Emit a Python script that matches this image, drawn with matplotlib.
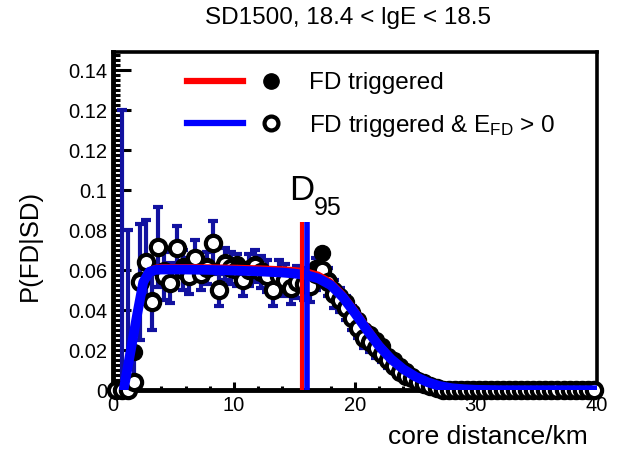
import matplotlib
matplotlib.use("Agg")
import matplotlib.pyplot as plt
from matplotlib.lines import Line2D
from matplotlib.legend_handler import HandlerTuple
from matplotlib.ticker import MultipleLocator, FixedLocator

plt.rcParams['font.family'] = ['Liberation Sans', 'DejaVu Sans']
plt.rcParams['mathtext.fontset'] = 'custom'
plt.rcParams['mathtext.rm'] = 'Liberation Sans'
plt.rcParams['mathtext.it'] = 'Liberation Sans:italic'

# bin centres in km
core_distance = [0.25, 0.75, 1.25, 1.75, 2.25, 2.75, 3.25, 3.75, 4.25, 4.75,
                 5.25, 5.75, 6.25, 6.75, 7.25, 7.75, 8.25, 8.75, 9.25, 9.75,
                 10.25, 10.75, 11.25, 11.75, 12.25, 12.75, 13.25, 13.75, 14.25, 14.75,
                 15.25, 15.75, 16.25, 16.75, 17.25, 17.75, 18.25, 18.75, 19.25, 19.75,
                 20.25, 20.75, 21.25, 21.75, 22.25, 22.75, 23.25, 23.75, 24.25, 24.75,
                 25.25, 25.75, 26.25, 26.75, 27.25, 27.75, 28.25, 28.75, 29.25, 29.75,
                 30.25, 30.75, 31.25, 31.75, 32.25, 32.75, 33.25, 33.75, 34.25, 34.75,
                 35.25, 35.75, 36.25, 36.75, 37.25, 37.75, 38.25, 38.75, 39.25, 39.75]

# FD triggered (filled)
p_fd = [0, 0, 0.002, 0.019, 0.055, 0.064, 0.045, 0.071, 0.060, 0.054,
        0.071, 0.062, 0.058, 0.063, 0.060, 0.062, 0.074, 0.051, 0.064, 0.062,
        0.063, 0.056, 0.061, 0.063, 0.060, 0.058, 0.051, 0.058, 0.056, 0.052,
        0.055, 0.056, 0.053, 0.061, 0.0685, 0.055, 0.050, 0.047, 0.044, 0.039,
        0.035, 0.030, 0.028, 0.025, 0.022, 0.017, 0.015, 0.012, 0.0095, 0.007,
        0.005, 0.004, 0.002, 0.001, 0, 0, 0, 0, 0, 0,
        0, 0, 0, 0, 0, 0, 0, 0, 0, 0,
        0, 0, 0, 0, 0, 0, 0, 0, 0, 0]

# FD triggered & E_FD > 0 (open)
p_fd_e = [0, 0, 0, 0.004, 0.054, 0.064, 0.044, 0.0715, 0.057, 0.0535,
          0.071, 0.060, 0.057, 0.066, 0.058, 0.061, 0.0735, 0.050, 0.063, 0.061,
          0.060, 0.055, 0.060, 0.062, 0.059, 0.057, 0.050, 0.057, 0.055, 0.051,
          0.054, 0.053, 0.052, 0.058, 0.060, 0.054, 0.048, 0.045, 0.041, 0.036,
          0.031, 0.026, 0.024, 0.021, 0.018, 0.015, 0.012, 0.009, 0.007, 0.006,
          0.004, 0.003, 0.002, 0.001, 0, 0, 0, 0, 0, 0,
          0, 0, 0, 0, 0, 0, 0, 0, 0, 0,
          0, 0, 0, 0, 0, 0, 0, 0, 0, 0]

p_err = [0, 0.14, 0.08, 0.015, 0.029, 0.021, 0.014, 0.02, 0.012, 0.01,
         0.011, 0.01, 0.009, 0.009, 0.008, 0.008, 0.011, 0.008, 0.008, 0.008,
         0.008, 0.008, 0.008, 0.008, 0.008, 0.008, 0.008, 0.008, 0.008, 0.008,
         0.008, 0.008, 0.008, 0.008, 0.008, 0.007, 0.007, 0.006, 0.006, 0.006,
         0.005, 0.005, 0.005, 0.005, 0.004, 0.004, 0.003, 0.003, 0.003, 0.002,
         0.002, 0.001, 0.001, 0.001, 0, 0, 0, 0, 0, 0,
         0, 0, 0, 0, 0, 0, 0, 0, 0, 0,
         0, 0, 0, 0, 0, 0, 0, 0, 0, 0]

# fitted curves
fit_x = [0.9, 1.5, 2.0, 2.5, 3.0, 3.5, 4.0, 6.0, 8.0, 10.0, 12.0, 14.0, 15.0, 16.0,
         17.0, 18.0, 19.0, 20.0, 21.0, 22.0, 23.0, 24.0, 25.0, 26.0, 27.0, 28.0,
         29.0, 30.0, 32.0, 35.0, 40.0]
fit_fd = [0.001, 0.021, 0.039, 0.055, 0.0605, 0.0617, 0.062, 0.062, 0.0619, 0.0617,
          0.0614, 0.0609, 0.0605, 0.0598, 0.0582, 0.0548, 0.0488, 0.041, 0.0325, 0.024,
          0.017, 0.0115, 0.0075, 0.0045, 0.0024, 0.0012, 0.0006, 0.0002, 0, 0, 0]
fit_fd_e = [0.001, 0.021, 0.038, 0.054, 0.0592, 0.0601, 0.0603, 0.0603, 0.0601, 0.0598,
            0.0594, 0.0588, 0.0583, 0.0575, 0.0558, 0.0525, 0.0465, 0.0385, 0.030, 0.022,
            0.0155, 0.0105, 0.0068, 0.004, 0.0021, 0.001, 0.0005, 0.0002, 0, 0, 0]

d95_fd = 15.6
d95_fd_e = 16.05
d95_height = 0.084

ytick_pos = [0, 0.02, 0.04, 0.06, 0.08, 0.10, 0.12, 0.14, 0.16]
ytick_lbl = ["0", "0.02", "0.04", "0.06", "0.08", "0.1", "0.12", "0.12", "0.14"]

fig = plt.figure(figsize=(6.21, 4.49), dpi=100)
ax = fig.add_axes([0.182, 0.131, 0.779, 0.753])

ax.errorbar(core_distance, p_fd_e, yerr=p_err, fmt='none', ecolor='#1212a0',
            elinewidth=3, capsize=3.5, capthick=3, zorder=2)
ax.plot(core_distance, p_fd, 'o', color='black', ms=11.5, zorder=3, clip_on=False)
ax.plot(core_distance, p_fd_e, 'o', mfc='white', mec='black', mew=3, ms=11,
        zorder=4, clip_on=False)
ax.plot(fit_x, fit_fd, color='red', lw=3, zorder=5, solid_joinstyle='round')
ax.plot(fit_x, fit_fd_e, color='blue', lw=7, zorder=6, solid_joinstyle='round',
        solid_capstyle='round')
ax.vlines([d95_fd], 0, d95_height, color='red', lw=3, zorder=7)
ax.vlines([d95_fd_e], 0, d95_height, color='blue', lw=4, zorder=7)
ax.text(14.6, 0.095, "D", fontsize=25, zorder=8)
ax.text(16.6, 0.0875, "95", fontsize=18, zorder=8)

ax.set_xlim(0, 40)
ax.set_ylim(0, 0.169)
ax.xaxis.set_major_locator(FixedLocator([0, 10, 20, 30, 40]))
ax.xaxis.set_minor_locator(MultipleLocator(2))
ax.yaxis.set_major_locator(FixedLocator(ytick_pos))
ax.set_yticklabels(ytick_lbl)
ax.yaxis.set_minor_locator(MultipleLocator(0.0025))
ax.tick_params(axis='both', which='both', direction='in', labelsize=14.5,
               top=False, right=False)
ax.tick_params(axis='x', which='major', length=6, width=2.2, pad=4)
ax.tick_params(axis='x', which='minor', length=3, width=2.2)
ax.tick_params(axis='y', which='major', length=13, width=2.2, pad=4)
ax.tick_params(axis='y', which='minor', length=5, width=2.2)
for side in ['left', 'bottom']:
    ax.spines[side].set_linewidth(3.5)
for side in ['top', 'right']:
    ax.spines[side].set_linewidth(2.6)

h1 = (Line2D([], [], color='red', lw=4.5),
      Line2D([], [], ls='none', marker='o', color='black', ms=11))
h2 = (Line2D([], [], color='blue', lw=4.5),
      Line2D([], [], ls='none', marker='o', mfc='white', mec='black', mew=3, ms=10))
ax.legend([h1, h2], ["FD triggered", r"FD triggered & E$_{\rm FD}$ > 0"],
          handler_map={tuple: HandlerTuple(ndivide=None, pad=0)},
          handlelength=4.6, handletextpad=0.4, labelspacing=0.75,
          frameon=False, fontsize=17.5, loc='upper left',
          bbox_to_anchor=(0.153, 0.94), borderpad=0, borderaxespad=0)

fig.text(0.56, 0.96, "SD1500, 18.4 < lgE < 18.5", ha='center', va='center', fontsize=17.5)
fig.text(0.048, 0.454, "P(FD|SD)", rotation=90, ha='center', va='center', fontsize=18.5)
fig.text(0.947, 0.027, "core distance/km", ha='right', va='center', fontsize=19)

fig.savefig("out.png", dpi=100, facecolor='w')
